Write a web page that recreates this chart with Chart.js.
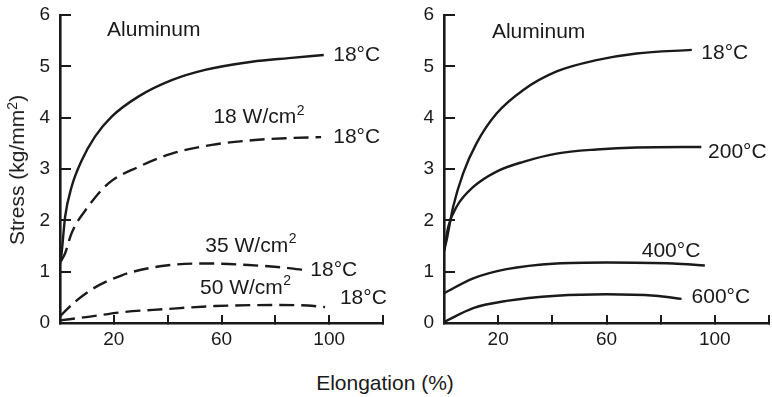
<!DOCTYPE html>
<html>
<head>
<meta charset="utf-8">
<script src="https://cdn.jsdelivr.net/npm/chart.js@4"></script>
<style>
  body { margin: 0; background: #fff; }
  #wrap { position: relative; width: 772px; height: 397px; overflow: hidden; }
  canvas { position: absolute; top: 0; }
  #xtitle {
    position: absolute; left: 0; width: 770px; top: 371px;
    text-align: center; font: 21px "Liberation Sans", Arial, sans-serif; color: #1a1a1a;
  }
  #ytitle {
    position: absolute; left: 17px; top: 170px; white-space: nowrap;
    transform: translate(-50%, -50%) rotate(-90deg);
    font: 21px "Liberation Sans", Arial, sans-serif; color: #1a1a1a; line-height: 24px;
  }
  #ytitle sup { font-size: 14px; position: relative; top: -7px; vertical-align: baseline; line-height: 0; }
</style>
</head>
<body>
<div id="wrap">
  <canvas id="left" width="390" height="360" style="left:0;width:390px;height:360px"></canvas>
  <canvas id="right" width="382" height="360" style="left:390px;width:382px;height:360px"></canvas>
  <div id="ytitle">Stress (kg/mm<sup>2</sup>)</div>
  <div id="xtitle">Elongation (%)</div>
</div>
<script>
// left panel: irradiated samples, tested at 18 C
const solid18X = [0, 0.6, 1.9, 4.3, 8.1, 13, 19.2, 29.1, 41.5, 53.9, 71.3, 85, 98];
const solid18Y = [1.15, 1.36, 2.07, 2.65, 3.17, 3.63, 4.02, 4.41, 4.73, 4.93, 5.09, 5.16, 5.22];
const w18X = [0.3, 1.9, 4.3, 10.5, 18, 29.1, 41.5, 56.4, 71.3, 84, 97];
const w18Y = [1.2, 1.36, 1.75, 2.27, 2.72, 3.04, 3.3, 3.47, 3.56, 3.6, 3.62];
const w35X = [0, 0.6, 10.5, 23, 37.8, 53.9, 70, 85, 91];
const w35Y = [0.12, 0.16, 0.61, 0.93, 1.11, 1.16, 1.13, 1.07, 1.03];
const w50X = [0, 10.5, 23, 39, 57.6, 78.7, 92, 98.5];
const w50Y = [0.05, 0.12, 0.21, 0.27, 0.33, 0.35, 0.34, 0.31];

// right panel: unirradiated samples at several temperatures
const t18X = [0, 1, 3.4, 7.1, 12, 19.4, 29.3, 41.6, 56.3, 71.1, 91.5];
const t18Y = [1.4, 1.62, 2.27, 2.92, 3.5, 4.08, 4.54, 4.9, 5.12, 5.25, 5.32];
const t200X = [0, 1.6, 4.7, 10.8, 19.4, 29.3, 41.6, 56.3, 71.1, 95];
const t200Y = [1.4, 1.88, 2.27, 2.65, 2.95, 3.14, 3.3, 3.38, 3.42, 3.43];
const t400X = [0, 10.8, 23.1, 41.6, 60, 84.6, 96.3];
const t400Y = [0.58, 0.87, 1.05, 1.16, 1.18, 1.16, 1.12];
const t600X = [0, 10.8, 23.1, 41.6, 60, 78, 87.7];
const t600Y = [0.02, 0.29, 0.43, 0.53, 0.56, 0.53, 0.47];

const xLabels = [20, 60, 100];
const yLabels = [0, 1, 2, 3, 4, 5, 6];

// text notes: [text, superscript, x, y]
const leftNotes = [
  ["Aluminum", "", 17.5, 5.7],
  ["18°C", "", 101.5, 5.22],
  ["18 W/cm", "2", 57, 4.0],
  ["18°C", "", 101.5, 3.62],
  ["35 W/cm", "2", 54, 1.49],
  ["18°C", "", 93, 1.03],
  ["50 W/cm", "2", 52, 0.68],
  ["18°C", "", 104, 0.49],
];
const rightNotes = [
  ["Aluminum", "", 17.7, 5.67],
  ["18°C", "", 95, 5.26],
  ["200°C", "", 97.5, 3.33],
  ["400°C", "", 73, 1.39],
  ["600°C", "", 91.4, 0.51],
];

const ink = "#1a1a1a";
const fontFamily = '"Liberation Sans", Arial, sans-serif';
Chart.defaults.font.family = fontFamily;
Chart.defaults.color = ink;

function pts(xs, ys) {
  return xs.map((x, i) => ({ x: x, y: ys[i] }));
}

function line(xs, ys, dashed) {
  return {
    data: pts(xs, ys),
    borderColor: ink,
    borderWidth: 2.4,
    borderDash: dashed ? [15, 7] : [],
    pointRadius: 0,
    fill: false,
    cubicInterpolationMode: "monotone",
  };
}

function notesPlugin(notes) {
  return {
    id: "notes",
    afterDatasetsDraw(chart) {
      const ctx = chart.ctx;
      const sx = chart.scales.x, sy = chart.scales.y;
      ctx.save();
      ctx.fillStyle = ink;
      ctx.textAlign = "left";
      ctx.textBaseline = "middle";
      notes.forEach(n => {
        const px = sx.getPixelForValue(n[2]);
        const py = sy.getPixelForValue(n[3]);
        ctx.font = "21px " + fontFamily;
        ctx.fillText(n[0], px, py);
        if (n[1]) {
          const w = ctx.measureText(n[0]).width;
          ctx.font = "14px " + fontFamily;
          ctx.fillText(n[1], px + w + 0.5, py - 7);
        }
      });
      ctx.restore();
    },
  };
}

function makeChart(id, datasets, notes, yWidth, rightPad) {
  return new Chart(document.getElementById(id), {
    type: "line",
    data: { datasets: datasets },
    plugins: [notesPlugin(notes)],
    options: {
      responsive: false,
      animation: false,
      devicePixelRatio: 1,
      layout: { padding: { top: 15, right: rightPad, left: 0, bottom: 0 } },
      plugins: { legend: { display: false }, tooltip: { enabled: false } },
      scales: {
        x: {
          type: "linear",
          min: 0,
          max: 120,
          border: { display: true, color: ink, width: 2.6 },
          grid: { drawOnChartArea: false, drawTicks: true, tickLength: -8, color: ink, lineWidth: 2 },
          ticks: {
            stepSize: 20,
            padding: 13,
            maxRotation: 0,
            font: { size: 19 },
            callback: v => (xLabels.includes(v) ? String(v) : ""),
          },
          afterFit: s => {
            s.height = 37;
            s.paddingLeft = 0;
            s.paddingRight = 0;
          },
        },
        y: {
          type: "linear",
          min: 0,
          max: 6,
          border: { display: true, color: ink, width: 2.6 },
          grid: { drawOnChartArea: false, drawTicks: true, tickLength: -11, color: ink, lineWidth: 2 },
          ticks: {
            stepSize: 1,
            padding: 21,
            font: { size: 19 },
            callback: v => (yLabels.includes(v) ? String(v) : ""),
          },
          afterFit: s => {
            s.width = yWidth;
            s.paddingTop = 0;
            s.paddingBottom = 0;
          },
        },
      },
    },
  });
}

makeChart("left", [
  line(solid18X, solid18Y, false),
  line(w18X, w18Y, true),
  line(w35X, w35Y, true),
  line(w50X, w50Y, true),
], leftNotes, 60, 7);

makeChart("right", [
  line(t18X, t18Y, false),
  line(t200X, t200Y, false),
  line(t400X, t400Y, false),
  line(t600X, t600Y, false),
], rightNotes, 54, 3);
</script>
</body>
</html>
